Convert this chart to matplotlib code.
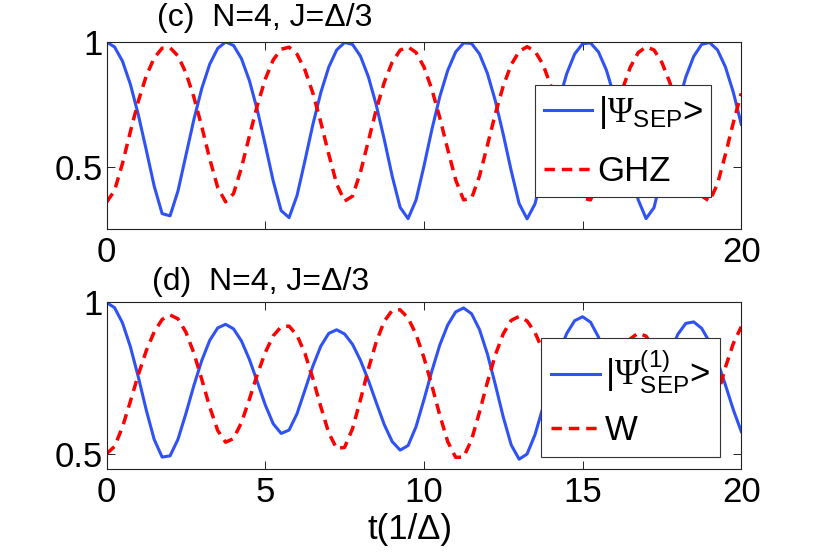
import matplotlib
matplotlib.use("Agg")
from matplotlib import pyplot as plt

plt.rcParams['font.family'] = 'Liberation Sans'
plt.rcParams['mathtext.fontset'] = 'custom'
plt.rcParams['mathtext.rm'] = 'Liberation Serif'
plt.rcParams['mathtext.it'] = 'Liberation Serif:italic'
plt.rcParams['mathtext.sf'] = 'Liberation Sans'
plt.rcParams['xtick.direction'] = 'in'
plt.rcParams['ytick.direction'] = 'in'
plt.rcParams['xtick.top'] = True
plt.rcParams['ytick.right'] = True

# time axis, step 0.25
t = [0.25 * i for i in range(81)]

# panel (c): |Psi_SEP> and GHZ
sep_c = [1.000, 0.980, 0.923, 0.830, 0.708, 0.567, 0.422, 0.312, 0.303, 0.403,
         0.546, 0.689, 0.814, 0.911, 0.974, 1.000, 0.986, 0.933, 0.845, 0.727,
         0.588, 0.443, 0.324, 0.296, 0.384, 0.524, 0.669, 0.797, 0.899, 0.968,
         0.998, 0.990, 0.943, 0.860, 0.746, 0.609, 0.462, 0.337, 0.292, 0.366,
         0.502, 0.649, 0.781, 0.886, 0.960, 0.996, 0.994, 0.952, 0.874, 0.764,
         0.629, 0.484, 0.352, 0.291, 0.351, 0.482, 0.628, 0.763, 0.873, 0.952,
         0.993, 0.996, 0.960, 0.887, 0.781, 0.650, 0.504, 0.368, 0.292, 0.336,
         0.466, 0.609, 0.745, 0.859, 0.942, 0.990, 0.998, 0.968, 0.900, 0.798,
         0.670]
ghz_c = [0.358, 0.404, 0.513, 0.641, 0.763, 0.864, 0.936, 0.975, 0.977, 0.944,
         0.876, 0.779, 0.660, 0.531, 0.417, 0.359, 0.392, 0.496, 0.623, 0.746,
         0.851, 0.928, 0.971, 0.979, 0.951, 0.888, 0.795, 0.678, 0.550, 0.431,
         0.362, 0.382, 0.478, 0.604, 0.730, 0.838, 0.919, 0.967, 0.980, 0.958,
         0.900, 0.810, 0.696, 0.569, 0.447, 0.367, 0.373, 0.462, 0.586, 0.712,
         0.824, 0.909, 0.962, 0.981, 0.963, 0.910, 0.824, 0.713, 0.587, 0.463,
         0.374, 0.367, 0.446, 0.567, 0.695, 0.809, 0.898, 0.957, 0.980, 0.968,
         0.917, 0.837, 0.730, 0.605, 0.479, 0.383, 0.362, 0.431, 0.549, 0.677,
         0.794]

# panel (d): |Psi^(1)_SEP> and W
sep_d = [1.000, 0.983, 0.933, 0.854, 0.754, 0.645, 0.548, 0.490, 0.494, 0.549,
         0.634, 0.726, 0.809, 0.875, 0.916, 0.928, 0.913, 0.873, 0.812, 0.738,
         0.662, 0.600, 0.568, 0.579, 0.633, 0.711, 0.790, 0.856, 0.898, 0.910,
         0.896, 0.862, 0.809, 0.743, 0.669, 0.597, 0.541, 0.513, 0.528, 0.590,
         0.679, 0.774, 0.860, 0.926, 0.969, 0.982, 0.963, 0.911, 0.830, 0.729,
         0.622, 0.530, 0.483, 0.500, 0.564, 0.654, 0.748, 0.833, 0.898, 0.940,
         0.953, 0.935, 0.886, 0.811, 0.721, 0.633, 0.568, 0.551, 0.588, 0.662,
         0.750, 0.832, 0.895, 0.931, 0.936, 0.915, 0.870, 0.806, 0.728, 0.646,
         0.574]
w_d = [0.501, 0.525, 0.589, 0.674, 0.762, 0.841, 0.903, 0.944, 0.959, 0.946,
       0.902, 0.833, 0.746, 0.655, 0.578, 0.539, 0.551, 0.604, 0.681, 0.763,
       0.835, 0.890, 0.920, 0.922, 0.892, 0.832, 0.749, 0.656, 0.570, 0.518,
       0.522, 0.584, 0.679, 0.781, 0.871, 0.938, 0.974, 0.976, 0.949, 0.895,
       0.818, 0.726, 0.628, 0.541, 0.489, 0.490, 0.547, 0.638, 0.737, 0.827,
       0.897, 0.941, 0.954, 0.939, 0.901, 0.841, 0.765, 0.682, 0.602, 0.542,
       0.520, 0.544, 0.606, 0.686, 0.766, 0.834, 0.880, 0.899, 0.889, 0.848,
       0.779, 0.692, 0.601, 0.528, 0.500, 0.528, 0.601, 0.693, 0.786, 0.865,
       0.920]

blue = '#2f52f5'
red = '#ff0000'

fig = plt.figure(figsize=(8.2, 5.52), dpi=100)
ax1 = fig.add_axes([0.130, 0.585, 0.774, 0.339])
ax2 = fig.add_axes([0.130, 0.150, 0.774, 0.302])

ax1.plot(t, sep_c, color=blue, lw=2.2, label='|$\\Psi_{\\mathsf{SEP}}$>')
ax1.plot(t, ghz_c, color=red, lw=2.5, ls=(0, (3, 2)), label='GHZ')
ax1.set_xlim(0, 20)
ax1.set_ylim(0.25, 1)
ax1.set_xticks([0, 5, 10, 15, 20])
ax1.set_xticklabels(['0', '', '', '', '20'])
ax1.set_yticks([0.5, 1])
ax1.set_yticklabels(['0.5', '1'])

ax2.plot(t, sep_d, color=blue, lw=2.2, label='|$\\Psi^{\\mathsf{(1)}}_{\\mathsf{SEP}}$>')
ax2.plot(t, w_d, color=red, lw=2.5, ls=(0, (3, 2)), label='W')
ax2.set_xlim(0, 20)
ax2.set_ylim(0.45, 1)
ax2.set_xticks([0, 5, 10, 15, 20])
ax2.set_yticks([0.5, 1])
ax2.set_yticklabels(['0.5', '1'])

for ax in (ax1, ax2):
    ax.tick_params(labelsize=25, length=6, width=0.6, pad=5)
    ax.tick_params(axis='y', pad=3)
    for s in ax.spines.values():
        s.set_linewidth(0.8)
        s.set_color('#222222')

leg1 = ax1.legend(loc='upper left', bbox_to_anchor=(0.675, 0.769), borderaxespad=0,
                  fontsize=25, fancybox=False, edgecolor='#333333', framealpha=1,
                  handlelength=1.4, handletextpad=0.15, borderpad=0.25, labelspacing=0.7)
leg1.get_frame().set_linewidth(0.8)
leg2 = ax2.legend(loc='upper left', bbox_to_anchor=(0.684, 0.788), borderaxespad=0,
                  fontsize=25, fancybox=False, edgecolor='#333333', framealpha=1,
                  handlelength=1.4, handletextpad=0.15, borderpad=0.3, labelspacing=0.5)
leg2.get_frame().set_linewidth(0.8)

fig.text(157 / 820, 1 - 18 / 552, '(c)  N=4, J=Δ/3', fontsize=23, ha='left', va='center')
fig.text(152 / 820, 1 - 282 / 552, '(d)  N=4, J=Δ/3', fontsize=23, ha='left', va='center')
fig.text(410 / 820, 1 - 530 / 552, 't(1/Δ)', fontsize=25, ha='center', va='center')

fig.savefig('out.png', dpi=100)
